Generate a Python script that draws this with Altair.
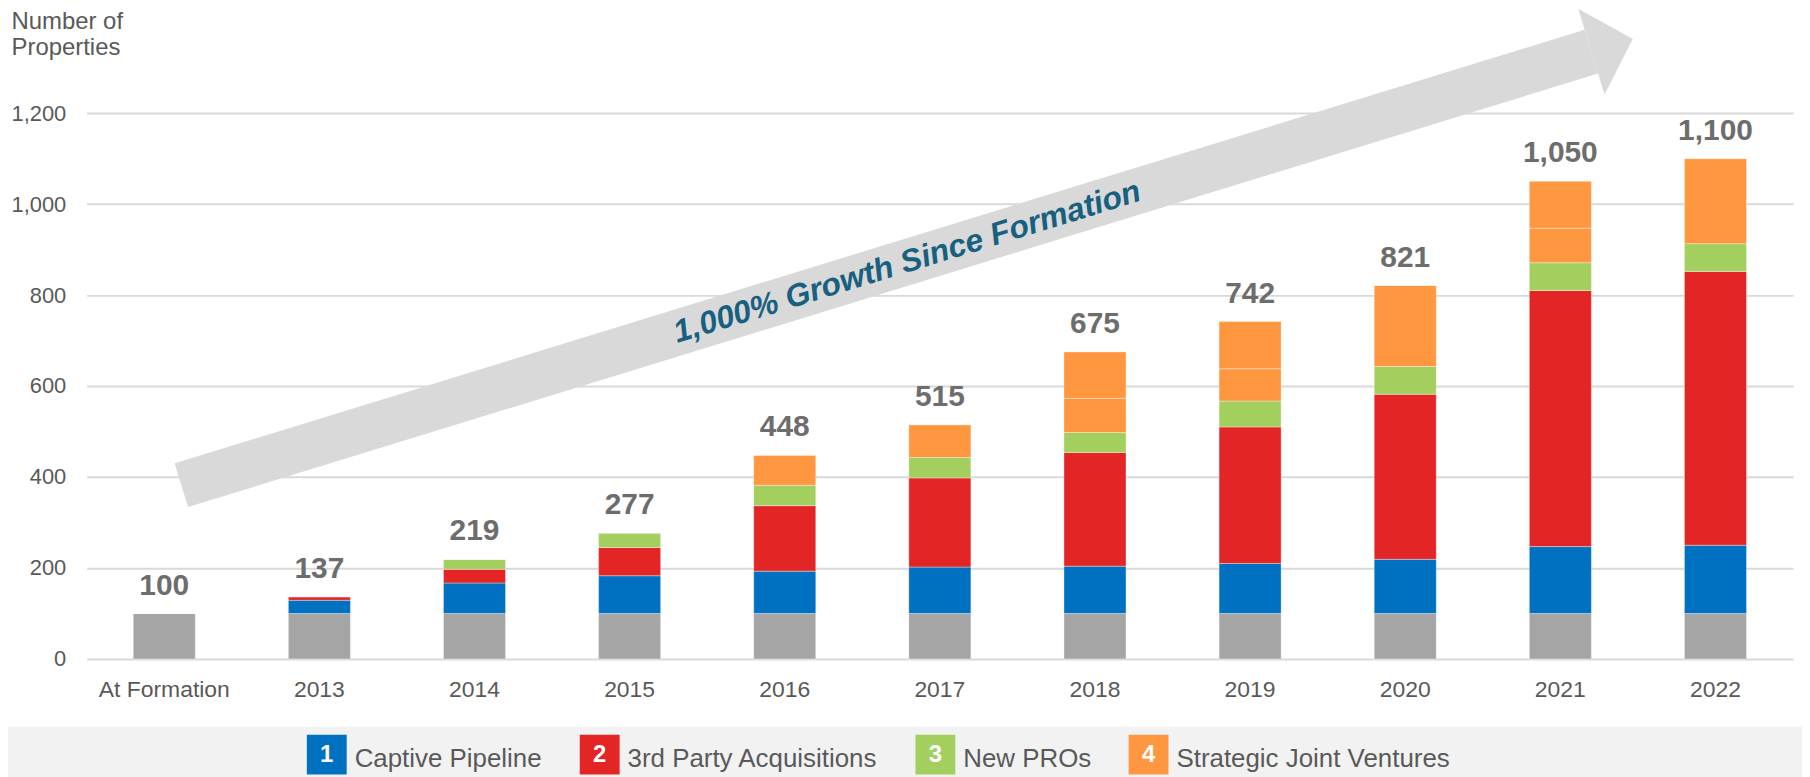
import math
import altair as alt
import pandas as pd

# ---------------- data ----------------
categories = ["At Formation", "2013", "2014", "2015", "2016", "2017",
              "2018", "2019", "2020", "2021", "2022"]
formation = [100, 100, 100, 100, 100, 100, 100, 100, 100, 100, 100]
captive = [0, 29, 67, 83, 93, 102, 104, 110, 119, 147, 150]
third_party = [0, 8, 30, 62, 144, 196, 250, 300, 363, 563, 602]
new_pros = [0, 0, 22, 32, 45, 45, 44, 57, 61, 61, 61]
jv_part_a = [0, 0, 0, 0, 66, 72, 75, 71, 178, 76, 187]
jv_part_b = [0, 0, 0, 0, 0, 0, 102, 104, 0, 103, 0]
totals = [100, 137, 219, 277, 448, 515, 675, 742, 821, 1050, 1100]

series_names = ["Formation Portfolio", "Captive Pipeline", "3rd Party Acquisitions",
                "New PROs", "Strategic Joint Ventures", "Strategic Joint Ventures (b)"]
series_colors = ["#a5a5a5", "#0070c0", "#e32526", "#a3cf5f", "#ff9640", "#ff9640"]

legend_names = ["Captive Pipeline", "3rd Party Acquisitions", "New PROs", "Strategic Joint Ventures"]
legend_numbers = ["1", "2", "3", "4"]

arrow_x = [0.61, 9.70]       # category-index units (band centre = i + 0.5)
arrow_y = [382, 1335]        # properties units
arrow_text = "1,000% Growth Since Formation"

# ---------------- layout ----------------
W, H = 1713, 548
YMAX = 1200
PAD_L, PAD_T = 79, 104
legend_centres = [241, 515, 852, 1066]

rows = []
for i, c in enumerate(categories):
    for k, vals in enumerate([formation, captive, third_party, new_pros, jv_part_a, jv_part_b]):
        rows.append({"category": c, "series": series_names[k], "value": vals[i], "order": k})
bars_df = pd.DataFrame(rows)
tot_df = pd.DataFrame({"category": categories, "total": totals})

color_scale = alt.Scale(domain=series_names, range=series_colors)
x_band = alt.X("category:N", sort=categories,
               scale=alt.Scale(paddingInner=0.6, paddingOuter=0.3),
               axis=alt.Axis(title=None, labelAngle=0, labelFontSize=23, labelColor="#595959",
                             labelPadding=20, ticks=False, tickSize=0, domain=False, grid=False))
y_axis = alt.Axis(values=[0, 200, 400, 600, 800, 1000, 1200], format=",d",
                  grid=True, gridColor="#d9d9d9", gridWidth=2, domain=False, ticks=False, tickSize=0,
                  labelFontSize=22, labelColor="#595959", labelPadding=21,
                  title=["Number of", "Properties"], titleAngle=0, titleAlign="left",
                  titleBaseline="alphabetic", titleX=-76, titleY=-85, titleFontSize=24,
                  titleFontWeight="normal", titleColor="#595959", titleLineHeight=26.6)
y_scale = alt.Scale(domain=[0, YMAX], nice=False)

bars = alt.Chart(bars_df).mark_bar(stroke="white", strokeWidth=0.8, strokeOpacity=0.45).encode(
    x=x_band,
    y=alt.Y("value:Q", stack="zero", scale=y_scale, axis=y_axis),
    color=alt.Color("series:N", scale=color_scale, legend=None),
    order=alt.Order("order:Q", sort="ascending"),
)
labels = alt.Chart(tot_df).mark_text(dy=-19, baseline="alphabetic", fontSize=30,
                                     fontWeight="bold", color="#6d6d6d").encode(
    x=x_band,
    y=alt.Y("total:Q", scale=y_scale, axis=y_axis),
    text=alt.Text("total:Q", format=",d"),
)
main = alt.layer(bars, labels)

# arrow
dxp = (arrow_x[1] - arrow_x[0]) / 11 * W
dyp = (arrow_y[1] - arrow_y[0]) / YMAX * H
ang = math.degrees(math.atan2(dyp, dxp))
rot = 360 - ang
t = 0.5147
text_df = pd.DataFrame({"ax": [arrow_x[0] + t * (arrow_x[1] - arrow_x[0])],
                        "ay": [arrow_y[0] + t * (arrow_y[1] - arrow_y[0])]})
arrow_df = pd.DataFrame({"ax": arrow_x, "ay": arrow_y})
head_df = arrow_df.iloc[[1]]
xq = alt.X("ax:Q", scale=alt.Scale(domain=[0, 11], nice=False, zero=False), axis=None)
yq = alt.Y("ay:Q", scale=alt.Scale(domain=[0, YMAX], nice=False), axis=None)

shaft = alt.Chart(arrow_df).mark_line(color="#d9d9d9", strokeWidth=46, strokeCap="butt").encode(x=xq, y=yq)
head = alt.Chart(head_df).mark_point(shape="M0,-1L0.967,0L0,1Z", filled=True, color="#d9d9d9",
                                     opacity=1, strokeWidth=0, size=8100, angle=rot).encode(x=xq, y=yq)
atext = alt.Chart(text_df).mark_text(text=arrow_text, angle=rot, fontSize=32, fontWeight="bold",
                                     fontStyle="italic", color="#17607f", align="center",
                                     baseline="middle").encode(x=xq, y=yq)

# legend band and items
band = alt.Chart(pd.DataFrame({"k": [0]})).mark_rect(color="#f2f2f2").encode(
    x=alt.value(-PAD_L), x2=alt.value(W + 9), y=alt.value(615.7), y2=alt.value(670))
leg_df = pd.DataFrame({"series": legend_names, "num": legend_numbers,
                       "cx": legend_centres, "lx": [c + 28 for c in legend_centres]})
leg_box = alt.Chart(leg_df).mark_square(size=1600, opacity=1, filled=True, strokeWidth=0).encode(
    x=alt.X("cx:Q", scale=None), y=alt.value(644),
    color=alt.Color("series:N", scale=color_scale, legend=None))
leg_num = alt.Chart(leg_df).mark_text(fontSize=24, fontWeight="bold", color="white",
                                      align="center", baseline="middle").encode(
    x=alt.X("cx:Q", scale=None), y=alt.value(644), text="num:N")
leg_lab = alt.Chart(leg_df).mark_text(fontSize=26, color="#595959", align="left",
                                      baseline="alphabetic").encode(
    x=alt.X("lx:Q", scale=None), y=alt.value(656), text="series:N")

chart = alt.layer(main, shaft, head, atext, band, leg_box, leg_num, leg_lab).resolve_scale(
    x="independent", y="independent"
).properties(
    width=W, height=H, background="white",
    autosize=alt.AutoSizeParams(type="none"),
    padding={"left": PAD_L, "top": PAD_T, "right": 9, "bottom": 117},
).configure(
    font="Liberation Sans"
).configure_view(strokeWidth=0)

chart.save("out.html", embed_options={"renderer": "svg", "actions": False})
